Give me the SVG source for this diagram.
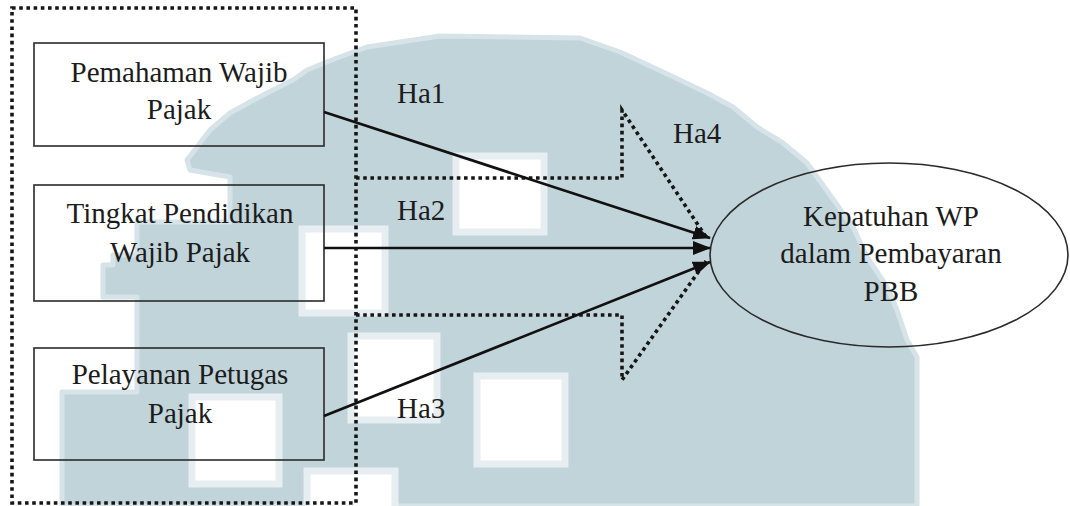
<svg xmlns="http://www.w3.org/2000/svg" width="1070" height="506" viewBox="0 0 1070 506">
  <defs>
    <style>
      .box { fill: none; stroke: #2a2a2a; stroke-width: 1.6; }
      .solid { fill: none; stroke: #111; stroke-width: 2.7; }
      .dots { fill: none; stroke: #161616; stroke-width: 3.6; stroke-dasharray: 3.6 3.6; }
      .hole { fill: #ffffff; stroke: #e6eef1; stroke-width: 7; }
    </style>
    <marker id="arrow" markerUnits="userSpaceOnUse" markerWidth="20" markerHeight="15" refX="17" refY="7" orient="auto">
      <path d="M0,0 L18,7 L0,14 z" fill="#111"/>
    </marker>
  </defs>

  <rect width="1070" height="506" fill="#ffffff"/>

  <!-- pale watermark behind the diagram -->
  <g id="watermark">
    <path fill="#c1d4da" stroke="#d6e3e8" stroke-width="5" stroke-linejoin="round"
      d="M440,36 L580,38 L620,52 L663,72 L707,93 L733,107 L757,127 L783,143 L807,163 L830,195 L853,227 L867,257 L887,287 L897,310 L907,340 L917,357 L917,506
         L62,506 L62,392 L137,392 L137,297 L103,297 L103,265 L113,265 L113,255 L137,255 L137,222 L230,222 L230,177 L190,170 L187,160 L197,147 L210,130 L230,113 L250,102 L273,90 L293,80 L307,70 L337,58 L367,47 Z"/>
    <rect class="hole" x="456" y="156" width="88" height="76"/>
    <rect class="hole" x="302" y="229" width="83" height="84"/>
    <rect class="hole" x="351" y="336" width="86" height="84"/>
    <rect class="hole" x="192" y="397" width="87" height="87"/>
    <rect class="hole" x="477" y="376" width="88" height="88"/>
    <rect class="hole" x="307" y="471" width="88" height="40"/>
  </g>

  <!-- dotted frame grouping the independent variables -->
  <g id="group-frame">
    <rect class="dots" x="12" y="8" width="344" height="495"/>
  </g>

  <g font-family="'Liberation Serif', 'Times New Roman', serif" font-size="29" fill="#1c1c1c">
    <g id="node-pemahaman" text-anchor="middle">
      <rect class="box" x="34" y="43" width="290" height="103"/>
      <text x="179" y="82">Pemahaman Wajib</text>
      <text x="179" y="119">Pajak</text>
    </g>

    <g id="node-pendidikan" text-anchor="middle">
      <rect class="box" x="34" y="185" width="290" height="116"/>
      <text x="180" y="223">Tingkat Pendidikan</text>
      <text x="180" y="262">Wajib Pajak</text>
    </g>

    <g id="node-pelayanan" text-anchor="middle">
      <rect class="box" x="34" y="348" width="290" height="112"/>
      <text x="180" y="384">Pelayanan Petugas</text>
      <text x="180" y="423">Pajak</text>
    </g>

    <g id="node-kepatuhan" text-anchor="middle">
      <ellipse class="box" cx="889" cy="255" rx="179" ry="92"/>
      <text x="891" y="226">Kepatuhan WP</text>
      <text x="891" y="263">dalam Pembayaran</text>
      <text x="891" y="301">PBB</text>
    </g>

    <g id="connectors">
      <!-- simultaneous effect (Ha4) -->
      <polyline class="dots" points="356,178 622,178 622,110 706,237"/>
      <polyline class="dots" points="356,315 622,315 622,380 706,261"/>
      <!-- partial effects (Ha1-Ha3) -->
      <line class="solid" x1="324" y1="112" x2="710" y2="238" marker-end="url(#arrow)"/>
      <line class="solid" x1="324" y1="248" x2="710" y2="248" marker-end="url(#arrow)"/>
      <line class="solid" x1="324" y1="416" x2="710" y2="262" marker-end="url(#arrow)"/>
    </g>

    <g id="labels">
      <text x="397" y="103">Ha1</text>
      <text x="397" y="220">Ha2</text>
      <text x="397" y="418">Ha3</text>
      <text x="673" y="143">Ha4</text>
    </g>
  </g>
</svg>
